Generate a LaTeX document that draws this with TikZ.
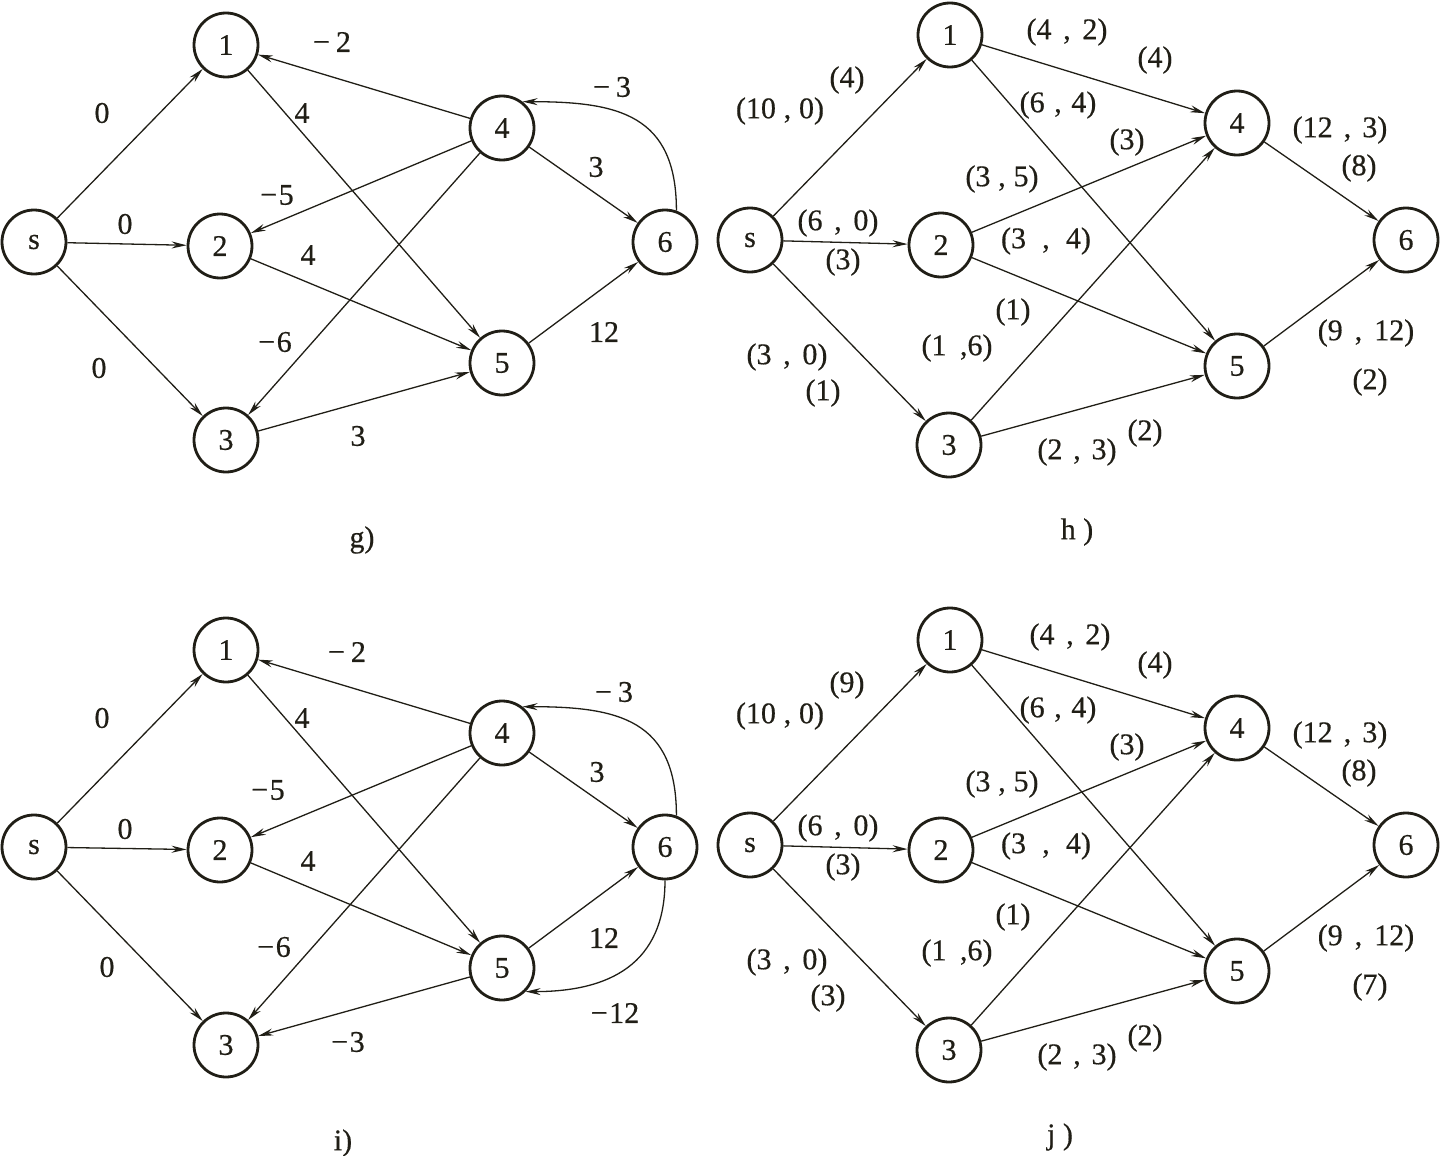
\documentclass[tikz,border=0pt]{standalone}
\usepackage{fontspec}
\setmainfont{Liberation Serif}[FakeBold=0.5]
\usetikzlibrary{arrows.meta}
\definecolor{ink}{RGB}{32,30,22}
\newcommand\pr[3]{(#1\hspace{#3em},\hspace{#3em}#2)}
\newcommand\mn[1]{−\hspace{0.05em}#1}
\newcommand\mw[1]{−\hspace{0.2em}#1}
\begin{document}
\begin{tikzpicture}[x=1pt,y=-1pt,
  vtx/.style={circle, draw=ink, line width=2.8pt, minimum size=64pt, inner sep=0pt, font=\fontsize{30}{32}\selectfont, text=ink},
  lbl/.style={inner sep=0pt, font=\fontsize{30}{32}\selectfont, text=ink},
  edge/.style={draw=ink, line width=1.3pt, -{Stealth[length=15pt,width=7pt,inset=5pt]}}]
\useasboundingbox (0,0) rectangle (1441,1156);

% ---------------- panel g ----------------
\node[vtx] (gs) at (34,242) {s};
\node[vtx] (g1) at (226,45) {1};
\node[vtx] (g2) at (220,246) {2};
\node[vtx] (g3) at (226,440) {3};
\node[vtx] (g4) at (502,128) {4};
\node[vtx] (g5) at (502,363) {5};
\node[vtx] (g6) at (665,242) {6};
\draw[edge] (gs) -- (g1);
\draw[edge] (gs) -- (g2);
\draw[edge] (gs) -- (g3);
\draw[edge] (g4) -- (g1);
\draw[edge] (g1) -- (g5);
\draw[edge] (g4) -- (g2);
\draw[edge] (g2) -- (g5);
\draw[edge] (g4) -- (g3);
\draw[edge] (g3) -- (g5);
\draw[edge] (g4) -- (g6);
\draw[edge] (g5) -- (g6);
\draw[edge] (g6.70) to[out=90,in=0,looseness=1.3] (g4.52);
\node[lbl] (gl1) at (102,113) {0};
\node[lbl] (gl2) at (125,224) {0};
\node[lbl] (gl3) at (99,368) {0};
\node[lbl] (gl4) at (332,42) {\mw{2}};
\node[lbl] (gl5) at (302,113) {4};
\node[lbl] (gl6) at (612,87) {\mw{3}};
\node[lbl] (gl7) at (277,195) {\mn{5}};
\node[lbl] (gl8) at (596,167) {3};
\node[lbl] (gl9) at (308,255) {4};
\node[lbl] (gl10) at (275,342) {\mn{6}};
\node[lbl] (gl11) at (604,332) {12};
\node[lbl] (gl12) at (358,436) {3};
\node[lbl] (gcap) at (362,540) {g)};

% ---------------- panel h ----------------
\node[vtx] (hs) at (750,240) {s};
\node[vtx] (h1) at (950,35) {1};
\node[vtx] (h2) at (941,245) {2};
\node[vtx] (h3) at (949,445) {3};
\node[vtx] (h4) at (1237,123) {4};
\node[vtx] (h5) at (1237,366) {5};
\node[vtx] (h6) at (1406,240) {6};
\draw[edge] (hs) -- (h1);
\draw[edge] (hs) -- (h2);
\draw[edge] (hs) -- (h3);
\draw[edge] (h1) -- (h4);
\draw[edge] (h1) -- (h5);
\draw[edge] (h2) -- (h4);
\draw[edge] (h2) -- (h5);
\draw[edge] (h3) -- (h4);
\draw[edge] (h3) -- (h5);
\draw[edge] (h4) -- (h6);
\draw[edge] (h5) -- (h6);
\node[lbl] (hl1) at (847,80) {(4)};
\node[lbl] (hl2) at (780,111) {\pr{10}{0}{0.26}};
\node[lbl] (hl3) at (1067,32) {\pr{4}{2}{0.39}};
\node[lbl] (hl4) at (1155,60) {(4)};
\node[lbl] (hl5) at (1058,105) {\pr{6}{4}{0.32}};
\node[lbl] (hl6) at (1340,130) {\pr{12}{3}{0.37}};
\node[lbl] (hl7) at (1127,142) {(3)};
\node[lbl] (hl8) at (1002,179) {\pr{3}{5}{0.26}};
\node[lbl] (hl9) at (1359,168) {(8)};
\node[lbl] (hl10) at (838,223) {\pr{6}{0}{0.39}};
\node[lbl] (hl11) at (843,262) {(3)};
\node[lbl] (hl12) at (1046,241) {\pr{3}{4}{0.54}};
\node[lbl] (hl13) at (1013,312) {(1)};
\node[lbl] (hl14) at (957,348) {(1\hspace{0.45em},6)};
\node[lbl] (hl15) at (1366,333) {\pr{9}{12}{0.4}};
\node[lbl] (hl16) at (787,357) {\pr{3}{0}{0.39}};
\node[lbl] (hl17) at (823,393) {(1)};
\node[lbl] (hl18) at (1145,433) {(2)};
\node[lbl] (hl19) at (1077,452) {\pr{2}{3}{0.36}};
\node[lbl] (hl20) at (1370,382) {(2)};
\node[lbl] (hcap) at (1077,532) {h\hspace{0.25em})};

% ---------------- panel i ----------------
\node[vtx] (is) at (34,847) {s};
\node[vtx] (i1) at (226,650) {1};
\node[vtx] (i2) at (220,850) {2};
\node[vtx] (i3) at (226,1045) {3};
\node[vtx] (i4) at (502,733) {4};
\node[vtx] (i5) at (502,968) {5};
\node[vtx] (i6) at (665,847) {6};
\draw[edge] (is) -- (i1);
\draw[edge] (is) -- (i2);
\draw[edge] (is) -- (i3);
\draw[edge] (i4) -- (i1);
\draw[edge] (i1) -- (i5);
\draw[edge] (i4) -- (i2);
\draw[edge] (i2) -- (i5);
\draw[edge] (i4) -- (i3);
\draw[edge] (i5) -- (i3);
\draw[edge] (i4) -- (i6);
\draw[edge] (i5) -- (i6);
\draw[edge] (i6.70) to[out=90,in=0,looseness=1.3] (i4.52);
\draw[edge] (i6.south) to[out=-90,in=0,looseness=1.2] (i5.-45);
\node[lbl] (il1) at (102,718) {0};
\node[lbl] (il2) at (125,829) {0};
\node[lbl] (il3) at (107,967) {0};
\node[lbl] (il4) at (347,652) {\mw{2}};
\node[lbl] (il5) at (302,718) {4};
\node[lbl] (il6) at (614,692) {\mw{3}};
\node[lbl] (il7) at (268,790) {\mn{5}};
\node[lbl] (il8) at (597,772) {3};
\node[lbl] (il9) at (308,861) {4};
\node[lbl] (il10) at (274,947) {\mn{6}};
\node[lbl] (il11) at (604,938) {12};
\node[lbl] (il12) at (615,1013) {\mn{12}};
\node[lbl] (il13) at (348,1042) {\mn{3}};
\node[lbl] (icap) at (343,1143) {i)};

% ---------------- panel j ----------------
\node[vtx] (js) at (750,845) {s};
\node[vtx] (j1) at (950,640) {1};
\node[vtx] (j2) at (941,850) {2};
\node[vtx] (j3) at (949,1050) {3};
\node[vtx] (j4) at (1237,728) {4};
\node[vtx] (j5) at (1237,971) {5};
\node[vtx] (j6) at (1406,845) {6};
\draw[edge] (js) -- (j1);
\draw[edge] (js) -- (j2);
\draw[edge] (js) -- (j3);
\draw[edge] (j1) -- (j4);
\draw[edge] (j1) -- (j5);
\draw[edge] (j2) -- (j4);
\draw[edge] (j2) -- (j5);
\draw[edge] (j3) -- (j4);
\draw[edge] (j3) -- (j5);
\draw[edge] (j4) -- (j6);
\draw[edge] (j5) -- (j6);
\node[lbl] (jl1) at (847,685) {(9)};
\node[lbl] (jl2) at (780,716) {\pr{10}{0}{0.26}};
\node[lbl] (jl3) at (1070,637) {\pr{4}{2}{0.39}};
\node[lbl] (jl4) at (1155,665) {(4)};
\node[lbl] (jl5) at (1058,710) {\pr{6}{4}{0.32}};
\node[lbl] (jl6) at (1340,735) {\pr{12}{3}{0.37}};
\node[lbl] (jl7) at (1127,747) {(3)};
\node[lbl] (jl8) at (1002,784) {\pr{3}{5}{0.26}};
\node[lbl] (jl9) at (1359,773) {(8)};
\node[lbl] (jl10) at (838,828) {\pr{6}{0}{0.39}};
\node[lbl] (jl11) at (843,867) {(3)};
\node[lbl] (jl12) at (1046,846) {\pr{3}{4}{0.54}};
\node[lbl] (jl13) at (1013,917) {(1)};
\node[lbl] (jl14) at (957,953) {(1\hspace{0.45em},6)};
\node[lbl] (jl15) at (1366,938) {\pr{9}{12}{0.4}};
\node[lbl] (jl16) at (787,962) {\pr{3}{0}{0.39}};
\node[lbl] (jl17) at (828,998) {(3)};
\node[lbl] (jl18) at (1145,1038) {(2)};
\node[lbl] (jl19) at (1077,1057) {\pr{2}{3}{0.36}};
\node[lbl] (jl20) at (1370,987) {(7)};
\node[lbl] (jcap) at (1060,1137) {j\hspace{0.25em})};
\end{tikzpicture}
\end{document}
